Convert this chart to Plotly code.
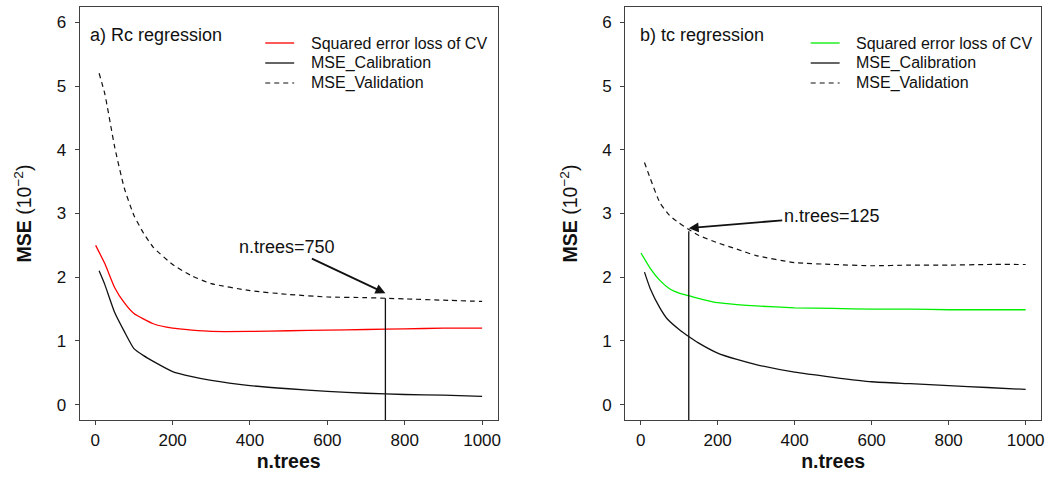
import plotly.graph_objects as go

# ---------------- data ----------------
# panel a) Rc regression
a_cv_x = [1, 25, 50, 75, 100, 150, 200, 250, 300, 400, 500, 600, 700, 800, 900, 1000]
a_cv_y = [2.50, 2.21, 1.84, 1.60, 1.43, 1.27, 1.20, 1.17, 1.15, 1.15, 1.16, 1.17, 1.18, 1.19, 1.20, 1.20]
a_cal_x = [10, 25, 50, 75, 100, 125, 150, 200, 250, 300, 400, 500, 600, 700, 800, 900, 1000]
a_cal_y = [2.10, 1.88, 1.45, 1.15, 0.88, 0.77, 0.68, 0.52, 0.44, 0.38, 0.30, 0.25, 0.21, 0.18, 0.16, 0.15, 0.13]
a_val_x = [10, 25, 50, 75, 100, 125, 150, 200, 250, 300, 400, 500, 600, 700, 750, 800, 900, 1000]
a_val_y = [5.20, 4.87, 4.05, 3.40, 2.97, 2.69, 2.47, 2.20, 2.02, 1.90, 1.79, 1.73, 1.69, 1.68, 1.67, 1.66, 1.64, 1.62]

# panel b) tc regression
b_cv_x = [1, 25, 50, 75, 100, 125, 150, 200, 250, 300, 400, 500, 600, 700, 800, 900, 1000]
b_cv_y = [2.38, 2.14, 1.95, 1.82, 1.75, 1.71, 1.67, 1.60, 1.57, 1.55, 1.52, 1.51, 1.50, 1.50, 1.49, 1.49, 1.49]
b_cal_x = [10, 25, 50, 70, 100, 125, 150, 200, 250, 300, 400, 500, 600, 700, 800, 900, 1000]
b_cal_y = [2.08, 1.82, 1.52, 1.34, 1.18, 1.07, 0.97, 0.81, 0.71, 0.63, 0.51, 0.43, 0.36, 0.33, 0.30, 0.27, 0.24]
b_val_x = [10, 25, 50, 75, 100, 125, 150, 200, 250, 300, 400, 500, 600, 700, 800, 900, 1000]
b_val_y = [3.80, 3.55, 3.17, 2.97, 2.85, 2.75, 2.66, 2.54, 2.44, 2.34, 2.23, 2.20, 2.18, 2.19, 2.19, 2.20, 2.20]

series_names = ["Squared error loss of CV", "MSE_Calibration", "MSE_Validation"]
panel_titles = ["a) Rc regression", "b) tc regression"]
cv_colors = ["#ff0000", "#00ee00"]

# optimal number of trees markers
best_ntrees = [750, 125]
best_val = [1.67, 2.72]
arrow_head_y = [1.75, 2.77]
arrow_labels = ["n.trees=750", "n.trees=125"]

x_ticks = [0, 200, 400, 600, 800, 1000]
y_ticks = [0, 1, 2, 3, 4, 5, 6]

# ---------------- figure ----------------
FONT = "Liberation Sans, Arial, sans-serif"
INK = "#111111"
W, H = 1061, 477
fig = go.Figure()

series_styles = [
    lambda i: dict(color=cv_colors[i], width=1.3),
    lambda i: dict(color=INK, width=1.3),
    lambda i: dict(color=INK, width=1.2, dash="5px,4px"),
]

panels = [
    ((a_cv_x, a_cv_y), (a_cal_x, a_cal_y), (a_val_x, a_val_y), "x", "y"),
    ((b_cv_x, b_cv_y), (b_cal_x, b_cal_y), (b_val_x, b_val_y), "x2", "y2"),
]
for i, (cv, cal, val, xa, ya) in enumerate(panels):
    for k, (sx, sy) in enumerate([cv, cal, val]):
        fig.add_trace(go.Scatter(x=sx, y=sy, mode="lines", name=series_names[k],
                                 line=dict(series_styles[k](i), shape="spline", smoothing=0.5),
                                 xaxis=xa, yaxis=ya, showlegend=False))

def px_x(p):
    return p / W

def px_y(p):
    return 1 - p / H

dom_y = [px_y(420), px_y(7)]
dom_x1 = [px_x(80), px_x(499)]
dom_x2 = [px_x(627), px_x(1044)]

axis_common = dict(
    showline=True, mirror=True, linecolor="#404040", linewidth=1.2,
    ticks="outside", ticklen=4, tickcolor="#404040", tickwidth=1.2,
    showgrid=False, zeroline=False,
    tickfont=dict(family=FONT, size=17, color=INK),
)
xcommon = dict(axis_common, range=[-40, 1040], tickvals=x_ticks,
               title=dict(text="<b>n.trees</b>", font=dict(family=FONT, size=19.5, color=INK), standoff=5))
ycommon = dict(axis_common, range=[-0.24, 6.24], tickvals=y_ticks, ticklabelstandoff=5,
               title=dict(text="<b>MSE</b> (10<sup>\u22122</sup>)", font=dict(family=FONT, size=19.5, color=INK), standoff=19))

fig.update_layout(
    width=W, height=H,
    margin=dict(l=0, r=0, t=0, b=0),
    paper_bgcolor="white", plot_bgcolor="white",
    font=dict(family=FONT, color=INK),
    xaxis=dict(xcommon, domain=dom_x1, anchor="y"),
    yaxis=dict(ycommon, domain=dom_y, anchor="x"),
    xaxis2=dict(xcommon, domain=dom_x2, anchor="y2"),
    yaxis2=dict(ycommon, domain=dom_y, anchor="x2"),
    showlegend=False,
)

xrefs = ["x", "x2"]
yrefs = ["y", "y2"]
title_x = [(88 - 80) / 419, (640 - 627) / 417]
arrow_ax = [-98, 143]
arrow_ay = [-46, -12]

# legend layout (pixel positions of the key samples)
legend_line_x = [(266, 295), (813, 842)]
legend_text_x = [310, 856]
legend_rows_y = [43, 63, 83]

for i in range(2):
    # panel label
    fig.add_annotation(text=panel_titles[i], xref=xrefs[i] + " domain", yref=yrefs[i] + " domain",
                       x=title_x[i], y=(420 - 35) / 413, xanchor="left", yanchor="middle",
                       showarrow=False, font=dict(family=FONT, size=18, color=INK))
    # legend keys
    for k in range(3):
        st = series_styles[k](i)
        fig.add_shape(type="line", xref="paper", yref="paper",
                      x0=px_x(legend_line_x[i][0]), x1=px_x(legend_line_x[i][1]),
                      y0=px_y(legend_rows_y[k]), y1=px_y(legend_rows_y[k]),
                      line=dict(color=st["color"], width=st["width"], dash=st.get("dash", "solid")))
        fig.add_annotation(text=series_names[k], xref="paper", yref="paper",
                           x=px_x(legend_text_x[i]), y=px_y(legend_rows_y[k]),
                           xanchor="left", yanchor="middle", showarrow=False,
                           font=dict(family=FONT, size=16, color=INK))
    # vertical line at optimal n.trees
    fig.add_shape(type="line", xref=xrefs[i], yref=yrefs[i],
                  x0=best_ntrees[i], x1=best_ntrees[i], y0=-0.24, y1=best_val[i],
                  line=dict(color=INK, width=1.3))
    # arrow + label
    fig.add_annotation(text=arrow_labels[i], xref=xrefs[i], yref=yrefs[i],
                       x=best_ntrees[i], y=arrow_head_y[i], ax=arrow_ax[i], ay=arrow_ay[i],
                       showarrow=True, arrowhead=2, arrowsize=1.1, arrowwidth=1.8,
                       arrowcolor=INK, standoff=0, startstandoff=0,
                       font=dict(family=FONT, size=18, color=INK))

fig.write_html("out.html")
